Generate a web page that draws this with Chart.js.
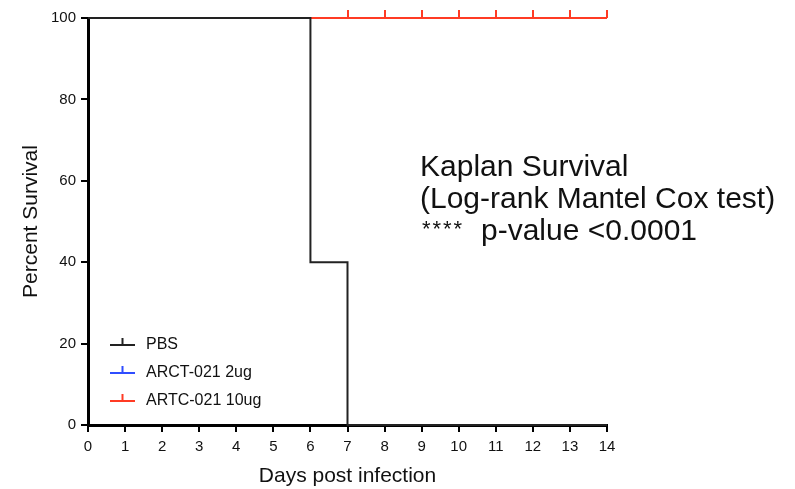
<!DOCTYPE html>
<html>
<head>
<meta charset="utf-8">
<script src="https://cdn.jsdelivr.net/npm/chart.js@4.4.1/dist/chart.umd.min.js"></script>
<style>
  html, body { margin: 0; padding: 0; background: #fff; }
  #wrap { width: 795px; height: 489px; }
</style>
</head>
<body>
<div id="wrap"><canvas id="km"></canvas></div>
<script>
// survival data
const dayTicks = [0, 1, 2, 3, 4, 5, 6, 7, 8, 9, 10, 11, 12, 13, 14];

const pbsDays = [0, 6, 7, 14];
const pbsSurvival = [100, 40, 0, 0];

const lowDoseDays = [0, 7, 8, 9, 10, 11, 12, 13, 14];
const lowDoseSurvival = [100, 100, 100, 100, 100, 100, 100, 100, 100];

const highDoseDays = [0, 7, 8, 9, 10, 11, 12, 13, 14];
const highDoseSurvival = [100, 100, 100, 100, 100, 100, 100, 100, 100];

const seriesLabels = ["PBS", "ARCT-021 2ug", "ARTC-021 10ug"];
const seriesColors = ["#222222", "#2f4dff", "#ff3b24"];

const noteLines = ["Kaplan Survival", "(Log-rank Mantel Cox test)"];
const noteStars = "****";
const notePValue = "p-value <0.0001";

const FONT = "'Liberation Sans', Arial, sans-serif";

// small upward tick used to mark censored animals
function censorMark(color) {
  const c = document.createElement("canvas");
  c.width = 2;
  c.height = 16;
  const g = c.getContext("2d");
  g.fillStyle = color;
  g.fillRect(0, 0, 2, 8);
  return c;
}

function toPoints(xs, ys) {
  return xs.map((x, i) => ({ x, y: ys[i] }));
}

function series(label, xs, ys, color, order) {
  return {
    label,
    data: toPoints(xs, ys),
    borderColor: color,
    backgroundColor: color,
    borderWidth: 2,
    stepped: true,
    fill: false,
    clip: false,
    order,
    pointStyle: censorMark(color),
    // first point is the start of the curve, the rest are censor marks
    pointRadius: xs.map((x, i) => (i === 0 || label === seriesLabels[0] ? 0 : 3)),
    pointHoverRadius: 0,
  };
}

const overlay = {
  id: "overlay",
  afterDraw(chart) {
    const ctx = chart.ctx;
    ctx.save();

    // legend inside the plot, bottom left
    ctx.font = "16px " + FONT;
    ctx.textBaseline = "middle";
    const legendY = [345, 373, 401];
    seriesLabels.forEach((lab, i) => {
      const y = legendY[i];
      ctx.strokeStyle = seriesColors[i];
      ctx.lineWidth = 2;
      ctx.beginPath();
      ctx.moveTo(110, y);
      ctx.lineTo(135, y);
      ctx.moveTo(122.5, y);
      ctx.lineTo(122.5, y - 7);
      ctx.stroke();
      ctx.fillStyle = "#111";
      ctx.fillText(lab, 146, y);
    });

    // test annotation
    ctx.font = "30px " + FONT;
    ctx.textBaseline = "alphabetic";
    ctx.fillStyle = "#111";
    noteLines.forEach((t, i) => {
      ctx.fillText(t, 420, 176 + i * 32);
    });
    ctx.font = "22px " + FONT;
    noteStars.split("").forEach((s, i) => {
      ctx.fillText(s, 422 + i * 10.5, 236);
    });
    ctx.font = "30px " + FONT;
    ctx.fillText(notePValue, 481, 240);

    ctx.restore();
  }
};

new Chart(document.getElementById("km"), {
  type: "line",
  data: {
    datasets: [
      series(seriesLabels[0], pbsDays, pbsSurvival, seriesColors[0], 0),
      series(seriesLabels[1], lowDoseDays, lowDoseSurvival, seriesColors[1], 2),
      series(seriesLabels[2], highDoseDays, highDoseSurvival, seriesColors[2], 1),
    ],
  },
  options: {
    responsive: true,
    maintainAspectRatio: false,
    animation: false,
    layout: { padding: { top: 18, right: 188, left: 0, bottom: 0 } },
    plugins: {
      legend: { display: false },
      tooltip: { enabled: false },
    },
    scales: {
      x: {
        type: "linear",
        min: 0,
        max: 14,
        afterBuildTicks(scale) {
          scale.ticks = dayTicks.map((v) => ({ value: v }));
        },
        afterFit(scale) {
          scale.height = 64;
        },
        ticks: {
          color: "#111",
          font: { family: FONT, size: 15 },
          padding: 6,
          maxRotation: 0,
        },
        grid: {
          drawOnChartArea: false,
          drawTicks: true,
          tickLength: 7,
          color: "#000",
          lineWidth: 2,
        },
        border: { color: "#000", width: 3 },
        title: {
          display: true,
          text: "Days post infection",
          color: "#111",
          font: { family: FONT, size: 21 },
          padding: { top: 0, bottom: 0 },
        },
      },
      y: {
        min: 0,
        max: 100,
        ticks: {
          stepSize: 20,
          color: "#111",
          font: { family: FONT, size: 15 },
          padding: 5,
        },
        afterFit(scale) {
          scale.width = 88;
        },
        grid: {
          drawOnChartArea: false,
          drawTicks: true,
          tickLength: 7,
          color: "#000",
          lineWidth: 2,
        },
        border: { color: "#000", width: 3 },
        title: {
          display: true,
          text: "Percent Survival",
          color: "#111",
          font: { family: FONT, size: 21 },
          padding: { top: 19, bottom: 0 },
        },
      },
    },
  },
  plugins: [overlay],
});
</script>
</body>
</html>
